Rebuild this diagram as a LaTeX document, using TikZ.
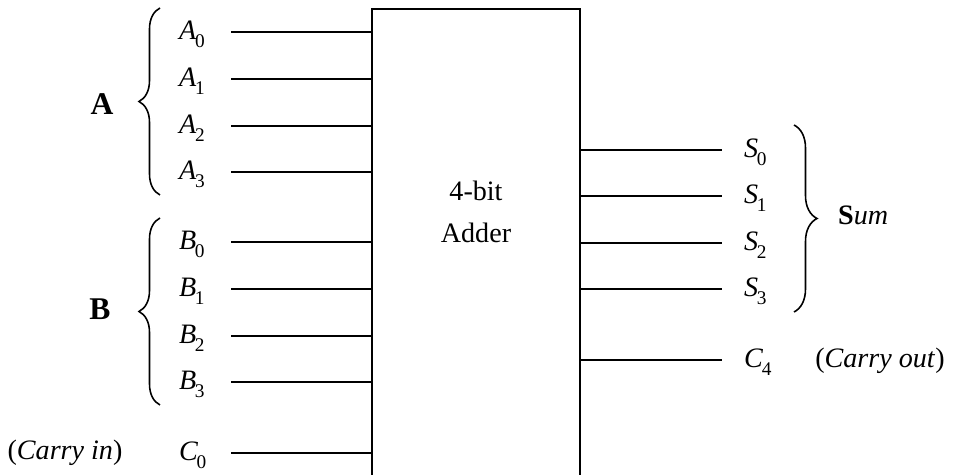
\documentclass[tikz,border=0pt]{standalone}
\usepackage{fontspec}
\setmainfont{Liberation Serif}
\usetikzlibrary{decorations.pathreplacing}
\newcommand{\sig}[2]{\textit{#1}\kern-0.05em\raisebox{-0.25em}{\fontsize{11}{11}\selectfont #2}}
\begin{document}
\begin{tikzpicture}[x=0.02cm, y=-0.02cm, line width=1.3pt,
  font=\fontsize{16}{24}\selectfont,
  lab/.style={anchor=base west, inner sep=0pt},
  grp/.style={anchor=base, inner sep=0pt},
  bus/.style={line width=1.3pt},
  curly/.style={decorate, decoration={brace, amplitude=#1}, line width=0.9pt}]
  \useasboundingbox (0,0) rectangle (960,475);
  % 가산기 상자 (아래쪽은 그림 밖으로)
  \node[draw, line width=1.3pt, minimum width=4.16cm, minimum height=9.52cm, inner sep=0pt]
    (adder) at (476,247) {};
  \node[align=center, inner sep=0pt] (name) at (476,212) {4-bit\\Adder};
  % 입력선 끝점
  \coordinate (a0) at (231,32);  \coordinate (a1) at (231,79);
  \coordinate (a2) at (231,126); \coordinate (a3) at (231,172);
  \coordinate (b0) at (231,242); \coordinate (b1) at (231,289);
  \coordinate (b2) at (231,336); \coordinate (b3) at (231,382);
  \coordinate (c0) at (231,453);
  % 출력선 끝점
  \coordinate (s0) at (722,150); \coordinate (s1) at (722,196);
  \coordinate (s2) at (722,243); \coordinate (s3) at (722,289);
  \coordinate (c4) at (722,360);
  \draw[bus] (a0) -- (a0 -| adder.west); \draw[bus] (a1) -- (a1 -| adder.west);
  \draw[bus] (a2) -- (a2 -| adder.west); \draw[bus] (a3) -- (a3 -| adder.west);
  \draw[bus] (b0) -- (b0 -| adder.west); \draw[bus] (b1) -- (b1 -| adder.west);
  \draw[bus] (b2) -- (b2 -| adder.west); \draw[bus] (b3) -- (b3 -| adder.west);
  \draw[bus] (c0) -- (c0 -| adder.west);
  \draw[bus] (adder.east |- s0) -- (s0); \draw[bus] (adder.east |- s1) -- (s1);
  \draw[bus] (adder.east |- s2) -- (s2); \draw[bus] (adder.east |- s3) -- (s3);
  \draw[bus] (adder.east |- c4) -- (c4);
  % 신호 이름
  \node[lab] (lA0) at (178,40)  {\sig{A}{0}}; \node[lab] (lA1) at (178,87)  {\sig{A}{1}};
  \node[lab] (lA2) at (178,134) {\sig{A}{2}}; \node[lab] (lA3) at (178,180) {\sig{A}{3}};
  \node[lab] (lB0) at (178,250) {\sig{B}{0}}; \node[lab] (lB1) at (178,297) {\sig{B}{1}};
  \node[lab] (lB2) at (178,344) {\sig{B}{2}}; \node[lab] (lB3) at (178,390) {\sig{B}{3}};
  \node[lab] (lC0) at (178,461) {\sig{C}{0}};
  \node[lab] (lS0) at (743,158) {\sig{S}{0}}; \node[lab] (lS1) at (743,204) {\sig{S}{1}};
  \node[lab] (lS2) at (743,251) {\sig{S}{2}}; \node[lab] (lS3) at (743,297) {\sig{S}{3}};
  \node[lab] (lC4) at (743,368) {\sig{C}{4}};
  % 묶음 괄호
  \draw[curly=0.42cm] (160,195) -- (160,8);
  \draw[curly=0.42cm] (160,405) -- (160,218);
  \draw[curly=0.46cm] (794,125) -- (794,312);
  \node[grp, font=\fontsize{18}{22}\selectfont] (gA) at (102,115) {\textbf{A}};
  \node[grp, font=\fontsize{18}{22}\selectfont] (gB) at (100,320) {\textbf{B}};
  \node[lab] (gS) at (837,225) {\textbf{S}\textit{um}};
  \node[grp] (cin) at (65,460) {(\textit{Carry in})};
  \node[grp] (cout) at (880,368) {(\textit{Carry out})};
\end{tikzpicture}
\end{document}
